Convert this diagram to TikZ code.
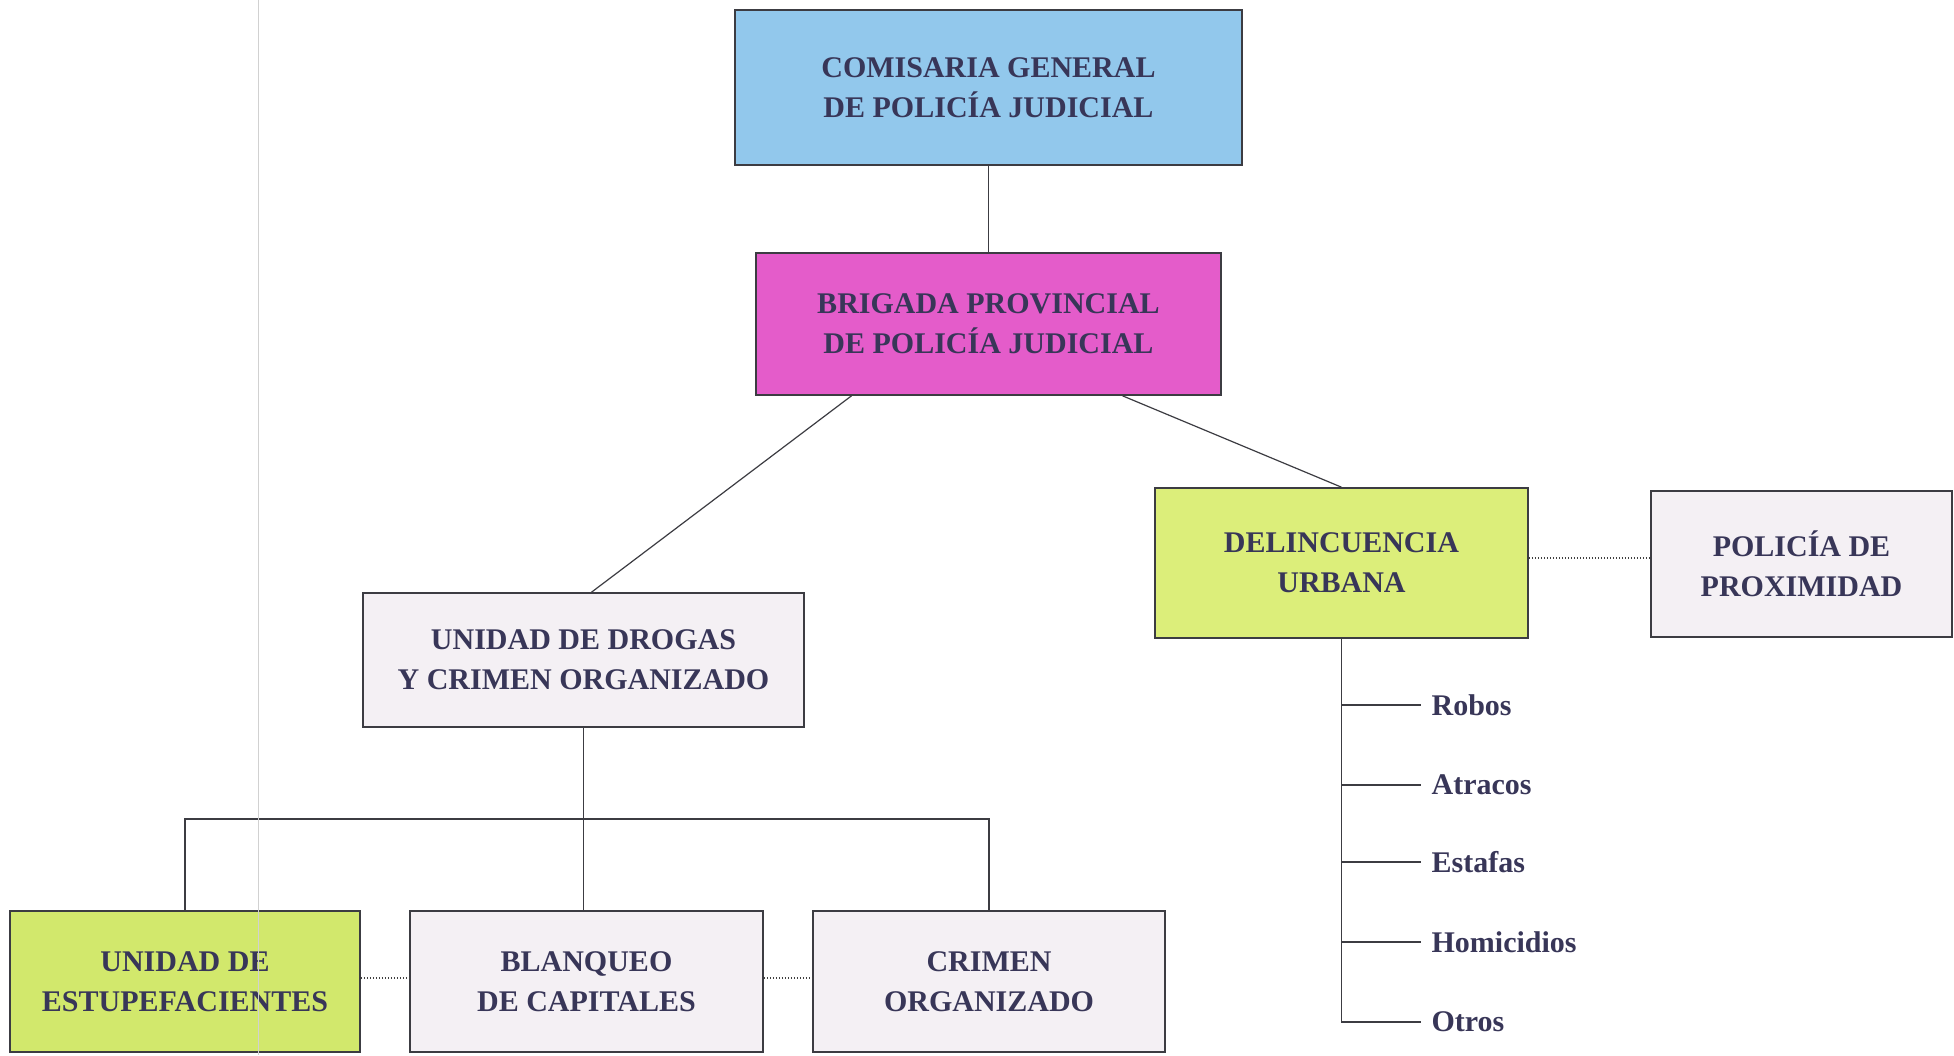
\documentclass[tikz,border=0pt]{standalone}
\usepackage{fontspec}
\setmainfont{Liberation Serif}
\usetikzlibrary{calc}
\definecolor{azul}{RGB}{146,200,236}
\definecolor{rosa}{RGB}{228,92,202}
\definecolor{lima}{RGB}{220,238,122}
\definecolor{verde}{RGB}{210,232,108}
\definecolor{gris}{RGB}{244,240,244}
\definecolor{tinta}{RGB}{56,54,88}
\definecolor{borde}{RGB}{60,60,66}

\begin{document}
\begin{tikzpicture}[x=1pt, y=-1pt, line width=1.2pt, draw=borde,
    caja/.style = {draw=borde, line width=1.6pt, inner sep=0pt, align=center, text=tinta,
                   font=\bfseries\fontsize{30}{40}\selectfont},
    rama/.style = {anchor=west, inner sep=10pt, text=tinta, font=\bfseries\fontsize{30}{36}\selectfont},
    punto/.style = {draw=black!75, line width=2pt, dash pattern=on 1.6pt off 1.4pt}]
    \fill[white] (0,0) rectangle (1954,1055);
    \useasboundingbox (0,0) rectangle (1954,1055);
    \node[caja, fill=azul, minimum width=507, minimum height=155] (com) at (988.5,87.5) {COMISARIA GENERAL\\DE POLICÍA JUDICIAL};
    \node[caja, fill=rosa, minimum width=465, minimum height=142] (brig) at (988.5,324) {BRIGADA PROVINCIAL\\DE POLICÍA JUDICIAL};
    \node[caja, fill=gris, minimum width=441, minimum height=134] (drog) at (583.5,660) {UNIDAD DE DROGAS\\Y CRIMEN ORGANIZADO};
    \node[caja, fill=lima, minimum width=373, minimum height=150] (delin) at (1341.5,563) {DELINCUENCIA\\URBANA};
    \node[caja, fill=gris, minimum width=301, minimum height=146] (prox) at (1801.5,564) {POLICÍA DE\\PROXIMIDAD};
    \node[caja, fill=verde, minimum width=350, minimum height=141] (estup) at (185,981.5) {UNIDAD DE\\ESTUPEFACIENTES};
    \node[caja, fill=gris, minimum width=353, minimum height=141] (blanq) at (586.5,981.5) {BLANQUEO\\DE CAPITALES};
    \node[caja, fill=gris, minimum width=352, minimum height=141] (crim) at (989,981.5) {CRIMEN\\ORGANIZADO};
    \node[rama] (rob) at (1421,705) {Robos};
    \node[rama] (atr) at (1421,785) {Atracos};
    \node[rama] (est) at (1421,862) {Estafas};
    \node[rama] (hom) at (1421,942) {Homicidios};
    \node[rama] (otr) at (1421,1022) {Otros};
    \coordinate (barra) at (583.5,819);

    \draw (com) -- (brig);
    \draw ($(brig.south)+(-137,0)$) -- ($(drog.north)+(8,0)$);
    \draw ($(brig.south)+(134,0)$) -- (delin.north);
    \draw (drog.south) -- (drog.south |- blanq.north);
    \draw (estup.north) |- (barra) -| (crim.north);
    \draw[punto] ($(estup.east)+(0,-3.5)$) -- ($(blanq.west)+(0,-3.5)$);
    \draw[punto] ($(blanq.east)+(0,-3.5)$) -- ($(crim.west)+(0,-3.5)$);
    \draw[punto] ($(delin.east)+(0,-5)$) -- ($(prox.west)+(0,-6)$);
    \draw (delin.south) |- (otr.west);
    \draw (delin.south |- rob.west) -- (rob.west);
    \draw (delin.south |- atr.west) -- (atr.west);
    \draw (delin.south |- est.west) -- (est.west);
    \draw (delin.south |- hom.west) -- (hom.west);
    \draw[black!18, line width=0.8pt] (258,0) -- (258,1055);
\end{tikzpicture}
\end{document}
